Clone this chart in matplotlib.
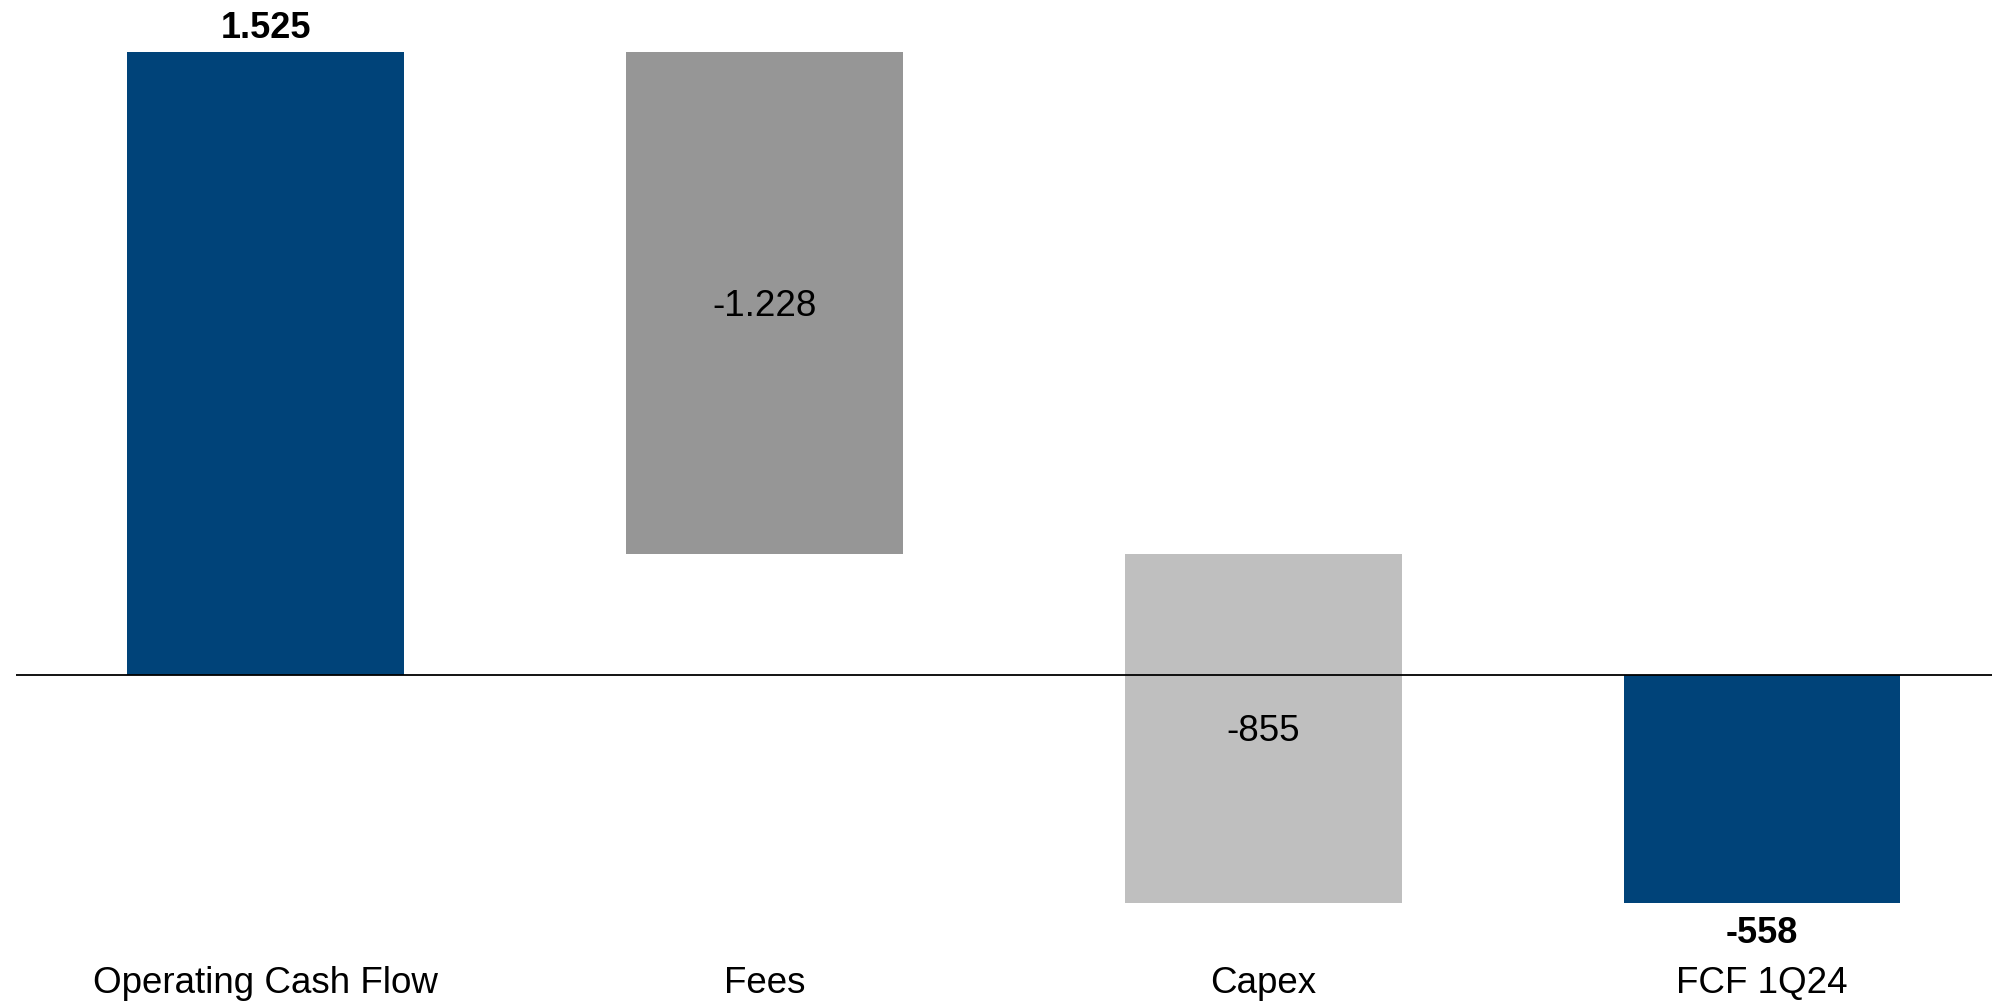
import numpy as np
import matplotlib.pyplot as plt

plt.rcParams['font.family'] = ['Liberation Sans', 'DejaVu Sans']

categories = ["Operating Cash Flow", "Fees", "Capex", "FCF 1Q24"]
values = [1525, -1228, -855, -558]
is_total = [True, False, False, True]
colors = ["#004379", "#969696", "#BFBFBF", "#004379"]


def fmt(v):
    return f"{v:,}".replace(",", ".")


# waterfall: steps hang from the running total, totals start at zero
bottoms = []
heights = []
running = 0
for v, tot in zip(values, is_total):
    if tot:
        bottoms.append(0)
        heights.append(v)
        running = v
    else:
        bottoms.append(running)
        heights.append(v)
        running += v

fig = plt.figure(figsize=(19.92, 10.05), dpi=100)
ax = fig.add_axes([0, 0, 1, 1])
x = np.arange(len(categories))
ax.bar(x, heights, bottom=bottoms, width=0.555, color=colors, zorder=2)
ax.hlines(0, -0.5, 3.6, color="black", lw=1.3, zorder=3)

for i, (v, b, tot) in enumerate(zip(values, bottoms, is_total)):
    if tot:
        top = b + v
        off = 16.5 if v > 0 else -22
        ax.annotate(fmt(v), (i, top), xytext=(0, off), textcoords="offset points",
                    ha="center", va="center", fontsize=26, fontweight="bold")
    else:
        ax.annotate(fmt(v), (i, b + v / 2), xytext=(0, -2.5), textcoords="offset points",
                    ha="center", va="center", fontsize=26.5)
    ax.text(i, 0.021, categories[i], transform=ax.get_xaxis_transform(),
            ha="center", va="center", fontsize=26.5)

ax.set_xlim(-0.533, 3.461)
ax.set_ylim(-808, 1652)
ax.axis("off")
fig.savefig("out.png", dpi=100)
